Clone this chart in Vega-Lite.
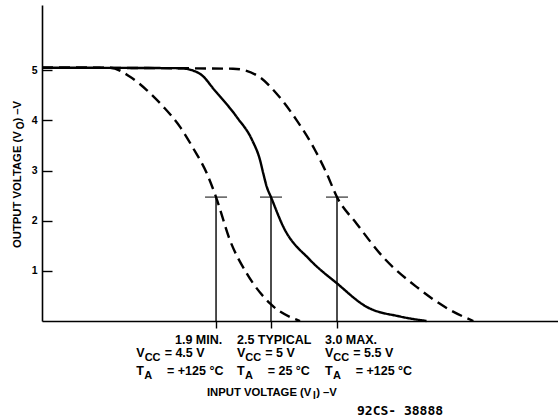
{
  "$schema": "https://vega.github.io/schema/vega-lite/v6.json",
  "width": 516,
  "height": 316,
  "autosize": {"type": "none"},
  "padding": {"left": 42, "top": 5, "right": 0, "bottom": 99},
  "background": "white",
  "config": {
    "view": {"stroke": null},
    "font": "Liberation Sans",
    "axis": {"grid": false, "domainColor": "black", "tickColor": "black", "labelColor": "black", "domainWidth": 1.6, "tickWidth": 1.4}
  },
  "datasets": {
    "curves": [
      {"series": "min", "vin": 0, "vout": 5.05},
      {"series": "min", "vin": 0.74, "vout": 5.05},
      {"series": "min", "vin": 0.961, "vout": 4.87},
      {"series": "min", "vin": 1.146, "vout": 4.6},
      {"series": "min", "vin": 1.325, "vout": 4.27},
      {"series": "min", "vin": 1.507, "vout": 3.87},
      {"series": "min", "vin": 1.652, "vout": 3.44},
      {"series": "min", "vin": 1.80, "vout": 2.94},
      {"series": "min", "vin": 1.9, "vout": 2.47},
      {"series": "min", "vin": 2.052, "vout": 1.61},
      {"series": "min", "vin": 2.235, "vout": 0.95},
      {"series": "min", "vin": 2.489, "vout": 0.35},
      {"series": "min", "vin": 2.72, "vout": 0},
      {"series": "typ", "vin": 0, "vout": 5.05},
      {"series": "typ", "vin": 1.507, "vout": 5.04},
      {"series": "typ", "vin": 1.638, "vout": 5.0},
      {"series": "typ", "vin": 1.758, "vout": 4.88},
      {"series": "typ", "vin": 1.867, "vout": 4.64},
      {"series": "typ", "vin": 2.129, "vout": 4.06},
      {"series": "typ", "vin": 2.293, "vout": 3.61},
      {"series": "typ", "vin": 2.38, "vout": 3.21},
      {"series": "typ", "vin": 2.416, "vout": 2.94},
      {"series": "typ", "vin": 2.453, "vout": 2.68},
      {"series": "typ", "vin": 2.5, "vout": 2.47},
      {"series": "typ", "vin": 2.593, "vout": 1.88},
      {"series": "typ", "vin": 2.795, "vout": 1.22},
      {"series": "typ", "vin": 3.0, "vout": 0.75},
      {"series": "typ", "vin": 3.27, "vout": 0.28},
      {"series": "typ", "vin": 3.57, "vout": 0.09},
      {"series": "typ", "vin": 3.81, "vout": 0},
      {"series": "max", "vin": 0, "vout": 5.05},
      {"series": "max", "vin": 2.085, "vout": 5.03},
      {"series": "max", "vin": 2.344, "vout": 4.9},
      {"series": "max", "vin": 2.543, "vout": 4.53},
      {"series": "max", "vin": 2.695, "vout": 4.0},
      {"series": "max", "vin": 2.833, "vout": 3.41},
      {"series": "max", "vin": 2.917, "vout": 2.97},
      {"series": "max", "vin": 3.0, "vout": 2.47},
      {"series": "max", "vin": 3.178, "vout": 1.94},
      {"series": "max", "vin": 3.419, "vout": 1.27},
      {"series": "max", "vin": 3.72, "vout": 0.68},
      {"series": "max", "vin": 4.023, "vout": 0.22},
      {"series": "max", "vin": 4.234, "vout": 0}
    ],
    "levels": [
      {"vin": 1.9, "vout": 2.47, "base": 0},
      {"vin": 2.5, "vout": 2.47, "base": 0},
      {"vin": 3.0, "vout": 2.47, "base": 0}
    ],
    "labels": [
      {"hx": 1.452, "cx": 1.03, "base": 0, "head": "1.9 MIN.", "vcc": "= 4.5 V", "ta": "= +125 °C"},
      {"hx": 2.129, "cx": 2.129, "base": 0, "head": "2.5 TYPICAL", "vcc": "= 5 V", "ta": "= 25 °C"},
      {"hx": 2.909, "cx": 2.909, "base": 0, "head": "3.0 MAX.", "vcc": "= 5.5 V", "ta": "= +125 °C"}
    ],
    "notes": [
      {"xt": 1.801, "yt": 0, "t1": "INPUT VOLTAGE (V", "t2": "I", "t3": ") –V", "code": "92CS- 38888", "codex": 3.181, "yx": 0, "yy": 1.454, "ya": "OUTPUT VOLTAGE (V", "yb": "O", "yc": ") –V"}
    ]
  },
  "layer": [
    {
      "data": {"name": "curves"},
      "mark": {"type": "line", "interpolate": "monotone", "strokeWidth": 2.4, "color": "black"},
      "encoding": {
        "x": {"field": "vin", "type": "quantitative", "scale": {"domain": [0, 2.5, 3.0, 5.0], "range": [0, 229, 295, 516], "nice": false, "zero": false},
              "axis": {"values": [1.9, 2.5, 3.0], "labels": false, "title": null, "tickSize": 7}},
        "y": {"field": "vout", "type": "quantitative", "scale": {"domain": [0, 6.3], "nice": false},
              "axis": {"values": [1, 2, 3, 4, 5], "title": null, "tickSize": -10, "labelPadding": 15, "labelFontSize": 10.5, "labelFontWeight": "bold"}},
        "detail": {"field": "series", "type": "nominal"},
        "strokeDash": {"field": "series", "type": "nominal", "scale": {"domain": ["min", "typ", "max"], "range": [[11, 6], [1, 0], [11, 6]]}, "legend": null}
      }
    },
    {
      "data": {"name": "levels"},
      "mark": {"type": "rule", "color": "black", "strokeWidth": 1.4},
      "encoding": {
        "x": {"field": "vin", "type": "quantitative", "scale": {"domain": [0, 2.5, 3.0, 5.0], "range": [0, 229, 295, 516], "nice": false, "zero": false},
              "axis": {"values": [1.9, 2.5, 3.0], "labels": false, "title": null, "tickSize": 7}},
        "y": {"field": "base", "type": "quantitative", "scale": {"domain": [0, 6.3], "nice": false},
              "axis": {"values": [1, 2, 3, 4, 5], "title": null, "tickSize": -10, "labelPadding": 15, "labelFontSize": 10.5, "labelFontWeight": "bold"}},
        "y2": {"field": "vout"}
      }
    },
    {
      "data": {"name": "levels"},
      "mark": {"type": "tick", "orient": "horizontal", "color": "black", "size": 22, "thickness": 1.4},
      "encoding": {
        "x": {"field": "vin", "type": "quantitative", "scale": {"domain": [0, 2.5, 3.0, 5.0], "range": [0, 229, 295, 516], "nice": false, "zero": false},
              "axis": {"values": [1.9, 2.5, 3.0], "labels": false, "title": null, "tickSize": 7}},
        "y": {"field": "vout", "type": "quantitative", "scale": {"domain": [0, 6.3], "nice": false},
              "axis": {"values": [1, 2, 3, 4, 5], "title": null, "tickSize": -10, "labelPadding": 15, "labelFontSize": 10.5, "labelFontWeight": "bold"}}
      }
    },
    {
      "data": {"name": "labels"},
      "mark": {"type": "text", "align": "left", "baseline": "alphabetic", "dy": 22.5, "fontSize": 12.5, "fontWeight": "bold", "color": "black"},
      "encoding": {"x": {"field": "hx", "type": "quantitative", "scale": {"domain": [0, 2.5, 3.0, 5.0], "range": [0, 229, 295, 516], "nice": false, "zero": false},
                         "axis": {"values": [1.9, 2.5, 3.0], "labels": false, "title": null, "tickSize": 7}},
                   "y": {"field": "base", "type": "quantitative", "scale": {"domain": [0, 6.3], "nice": false},
                         "axis": {"values": [1, 2, 3, 4, 5], "title": null, "tickSize": -10, "labelPadding": 15, "labelFontSize": 10.5, "labelFontWeight": "bold"}},
                   "text": {"field": "head", "type": "nominal"}}
    },
    {
      "data": {"name": "labels"},
      "mark": {"type": "text", "align": "left", "baseline": "alphabetic", "dy": 35.5, "fontSize": 12.5, "fontWeight": "bold", "color": "black", "text": "V"},
      "encoding": {"x": {"field": "cx", "type": "quantitative", "scale": {"domain": [0, 2.5, 3.0, 5.0], "range": [0, 229, 295, 516], "nice": false, "zero": false},
                         "axis": {"values": [1.9, 2.5, 3.0], "labels": false, "title": null, "tickSize": 7}},
                   "y": {"field": "base", "type": "quantitative", "scale": {"domain": [0, 6.3], "nice": false},
                         "axis": {"values": [1, 2, 3, 4, 5], "title": null, "tickSize": -10, "labelPadding": 15, "labelFontSize": 10.5, "labelFontWeight": "bold"}}}
    },
    {
      "data": {"name": "labels"},
      "mark": {"type": "text", "align": "left", "baseline": "alphabetic", "dx": 8.3, "dy": 40, "fontSize": 11, "fontWeight": "bold", "color": "black", "text": "CC"},
      "encoding": {"x": {"field": "cx", "type": "quantitative", "scale": {"domain": [0, 2.5, 3.0, 5.0], "range": [0, 229, 295, 516], "nice": false, "zero": false},
                         "axis": {"values": [1.9, 2.5, 3.0], "labels": false, "title": null, "tickSize": 7}},
                   "y": {"field": "base", "type": "quantitative", "scale": {"domain": [0, 6.3], "nice": false},
                         "axis": {"values": [1, 2, 3, 4, 5], "title": null, "tickSize": -10, "labelPadding": 15, "labelFontSize": 10.5, "labelFontWeight": "bold"}}}
    },
    {
      "data": {"name": "labels"},
      "mark": {"type": "text", "align": "left", "baseline": "alphabetic", "dx": 28.3, "dy": 35.5, "fontSize": 12.5, "fontWeight": "bold", "color": "black"},
      "encoding": {"x": {"field": "cx", "type": "quantitative", "scale": {"domain": [0, 2.5, 3.0, 5.0], "range": [0, 229, 295, 516], "nice": false, "zero": false},
                         "axis": {"values": [1.9, 2.5, 3.0], "labels": false, "title": null, "tickSize": 7}},
                   "y": {"field": "base", "type": "quantitative", "scale": {"domain": [0, 6.3], "nice": false},
                         "axis": {"values": [1, 2, 3, 4, 5], "title": null, "tickSize": -10, "labelPadding": 15, "labelFontSize": 10.5, "labelFontWeight": "bold"}},
                   "text": {"field": "vcc", "type": "nominal"}}
    },
    {
      "data": {"name": "labels"},
      "mark": {"type": "text", "align": "left", "baseline": "alphabetic", "dy": 53.7, "fontSize": 12.5, "fontWeight": "bold", "color": "black", "text": "T"},
      "encoding": {"x": {"field": "cx", "type": "quantitative", "scale": {"domain": [0, 2.5, 3.0, 5.0], "range": [0, 229, 295, 516], "nice": false, "zero": false},
                         "axis": {"values": [1.9, 2.5, 3.0], "labels": false, "title": null, "tickSize": 7}},
                   "y": {"field": "base", "type": "quantitative", "scale": {"domain": [0, 6.3], "nice": false},
                         "axis": {"values": [1, 2, 3, 4, 5], "title": null, "tickSize": -10, "labelPadding": 15, "labelFontSize": 10.5, "labelFontWeight": "bold"}}}
    },
    {
      "data": {"name": "labels"},
      "mark": {"type": "text", "align": "left", "baseline": "alphabetic", "dx": 8.0, "dy": 57.5, "fontSize": 11, "fontWeight": "bold", "color": "black", "text": "A"},
      "encoding": {"x": {"field": "cx", "type": "quantitative", "scale": {"domain": [0, 2.5, 3.0, 5.0], "range": [0, 229, 295, 516], "nice": false, "zero": false},
                         "axis": {"values": [1.9, 2.5, 3.0], "labels": false, "title": null, "tickSize": 7}},
                   "y": {"field": "base", "type": "quantitative", "scale": {"domain": [0, 6.3], "nice": false},
                         "axis": {"values": [1, 2, 3, 4, 5], "title": null, "tickSize": -10, "labelPadding": 15, "labelFontSize": 10.5, "labelFontWeight": "bold"}}}
    },
    {
      "data": {"name": "labels"},
      "mark": {"type": "text", "align": "left", "baseline": "alphabetic", "dx": 30.7, "dy": 53.7, "fontSize": 12.5, "fontWeight": "bold", "color": "black"},
      "encoding": {"x": {"field": "cx", "type": "quantitative", "scale": {"domain": [0, 2.5, 3.0, 5.0], "range": [0, 229, 295, 516], "nice": false, "zero": false},
                         "axis": {"values": [1.9, 2.5, 3.0], "labels": false, "title": null, "tickSize": 7}},
                   "y": {"field": "base", "type": "quantitative", "scale": {"domain": [0, 6.3], "nice": false},
                         "axis": {"values": [1, 2, 3, 4, 5], "title": null, "tickSize": -10, "labelPadding": 15, "labelFontSize": 10.5, "labelFontWeight": "bold"}},
                   "text": {"field": "ta", "type": "nominal"}}
    },
    {
      "data": {"name": "notes"},
      "mark": {"type": "text", "align": "left", "baseline": "alphabetic", "dy": 74.5, "fontSize": 11.3, "fontWeight": "bold", "color": "black"},
      "encoding": {"x": {"field": "xt", "type": "quantitative", "scale": {"domain": [0, 2.5, 3.0, 5.0], "range": [0, 229, 295, 516], "nice": false, "zero": false},
                         "axis": {"values": [1.9, 2.5, 3.0], "labels": false, "title": null, "tickSize": 7}},
                   "y": {"field": "yt", "type": "quantitative", "scale": {"domain": [0, 6.3], "nice": false},
                         "axis": {"values": [1, 2, 3, 4, 5], "title": null, "tickSize": -10, "labelPadding": 15, "labelFontSize": 10.5, "labelFontWeight": "bold"}},
                   "text": {"field": "t1", "type": "nominal"}}
    },
    {
      "data": {"name": "notes"},
      "mark": {"type": "text", "align": "left", "baseline": "alphabetic", "dx": 106.1, "dy": 77.5, "fontSize": 10, "fontWeight": "bold", "color": "black"},
      "encoding": {"x": {"field": "xt", "type": "quantitative", "scale": {"domain": [0, 2.5, 3.0, 5.0], "range": [0, 229, 295, 516], "nice": false, "zero": false},
                         "axis": {"values": [1.9, 2.5, 3.0], "labels": false, "title": null, "tickSize": 7}},
                   "y": {"field": "yt", "type": "quantitative", "scale": {"domain": [0, 6.3], "nice": false},
                         "axis": {"values": [1, 2, 3, 4, 5], "title": null, "tickSize": -10, "labelPadding": 15, "labelFontSize": 10.5, "labelFontWeight": "bold"}},
                   "text": {"field": "t2", "type": "nominal"}}
    },
    {
      "data": {"name": "notes"},
      "mark": {"type": "text", "align": "left", "baseline": "alphabetic", "dx": 109.2, "dy": 74.5, "fontSize": 11.3, "fontWeight": "bold", "color": "black"},
      "encoding": {"x": {"field": "xt", "type": "quantitative", "scale": {"domain": [0, 2.5, 3.0, 5.0], "range": [0, 229, 295, 516], "nice": false, "zero": false},
                         "axis": {"values": [1.9, 2.5, 3.0], "labels": false, "title": null, "tickSize": 7}},
                   "y": {"field": "yt", "type": "quantitative", "scale": {"domain": [0, 6.3], "nice": false},
                         "axis": {"values": [1, 2, 3, 4, 5], "title": null, "tickSize": -10, "labelPadding": 15, "labelFontSize": 10.5, "labelFontWeight": "bold"}},
                   "text": {"field": "t3", "type": "nominal"}}
    },
    {
      "data": {"name": "notes"},
      "mark": {"type": "text", "align": "left", "baseline": "alphabetic", "dy": 94, "fontSize": 13, "font": "DejaVu Sans Mono", "fontWeight": "bold", "color": "black"},
      "encoding": {"x": {"field": "codex", "type": "quantitative", "scale": {"domain": [0, 2.5, 3.0, 5.0], "range": [0, 229, 295, 516], "nice": false, "zero": false},
                         "axis": {"values": [1.9, 2.5, 3.0], "labels": false, "title": null, "tickSize": 7}},
                   "y": {"field": "yt", "type": "quantitative", "scale": {"domain": [0, 6.3], "nice": false},
                         "axis": {"values": [1, 2, 3, 4, 5], "title": null, "tickSize": -10, "labelPadding": 15, "labelFontSize": 10.5, "labelFontWeight": "bold"}},
                   "text": {"field": "code", "type": "nominal"}}
    },
    {
      "data": {"name": "notes"},
      "mark": {"type": "text", "align": "left", "baseline": "alphabetic", "angle": 270, "dy": -21.3, "fontSize": 11.3, "fontWeight": "bold", "color": "black"},
      "encoding": {"x": {"field": "yx", "type": "quantitative", "scale": {"domain": [0, 2.5, 3.0, 5.0], "range": [0, 229, 295, 516], "nice": false, "zero": false},
                         "axis": {"values": [1.9, 2.5, 3.0], "labels": false, "title": null, "tickSize": 7}},
                   "y": {"field": "yy", "type": "quantitative", "scale": {"domain": [0, 6.3], "nice": false},
                         "axis": {"values": [1, 2, 3, 4, 5], "title": null, "tickSize": -10, "labelPadding": 15, "labelFontSize": 10.5, "labelFontWeight": "bold"}},
                   "text": {"field": "ya", "type": "nominal"}}
    },
    {
      "data": {"name": "notes"},
      "mark": {"type": "text", "align": "left", "baseline": "alphabetic", "angle": 270, "dx": 118.7, "dy": -18, "fontSize": 10, "fontWeight": "bold", "color": "black"},
      "encoding": {"x": {"field": "yx", "type": "quantitative", "scale": {"domain": [0, 2.5, 3.0, 5.0], "range": [0, 229, 295, 516], "nice": false, "zero": false},
                         "axis": {"values": [1.9, 2.5, 3.0], "labels": false, "title": null, "tickSize": 7}},
                   "y": {"field": "yy", "type": "quantitative", "scale": {"domain": [0, 6.3], "nice": false},
                         "axis": {"values": [1, 2, 3, 4, 5], "title": null, "tickSize": -10, "labelPadding": 15, "labelFontSize": 10.5, "labelFontWeight": "bold"}},
                   "text": {"field": "yb", "type": "nominal"}}
    },
    {
      "data": {"name": "notes"},
      "mark": {"type": "text", "align": "left", "baseline": "alphabetic", "angle": 270, "dx": 126.5, "dy": -21.3, "fontSize": 11.3, "fontWeight": "bold", "color": "black"},
      "encoding": {"x": {"field": "yx", "type": "quantitative", "scale": {"domain": [0, 2.5, 3.0, 5.0], "range": [0, 229, 295, 516], "nice": false, "zero": false},
                         "axis": {"values": [1.9, 2.5, 3.0], "labels": false, "title": null, "tickSize": 7}},
                   "y": {"field": "yy", "type": "quantitative", "scale": {"domain": [0, 6.3], "nice": false},
                         "axis": {"values": [1, 2, 3, 4, 5], "title": null, "tickSize": -10, "labelPadding": 15, "labelFontSize": 10.5, "labelFontWeight": "bold"}},
                   "text": {"field": "yc", "type": "nominal"}}
    }
  ]
}
